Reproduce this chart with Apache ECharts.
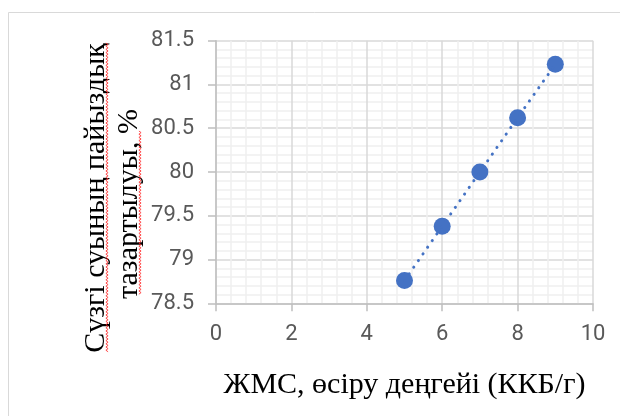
<!DOCTYPE html>
<html>
<head>
<meta charset="utf-8">
<script src="https://cdn.jsdelivr.net/npm/echarts@6/dist/echarts.min.js"></script>
<style>
  html, body { margin: 0; padding: 0; background: #ffffff; }
  #chart { width: 620px; height: 416px; }
</style>
</head>
<body>
<div id="chart"></div>
<script>
// Growth level of the culture (CFU/g) and filtrate purification, %
const growthLevel = [5, 6, 7, 8, 9];
const purification = [78.76, 79.38, 80.00, 80.62, 81.23];

const xTitle = 'ЖМС, өсіру деңгейі (ККБ/г)';
const yTitleLine1 = 'Сүзгі суының пайыздық';
const yTitleLine2 = 'тазартылуы, %';

const points = growthLevel.map((x, i) => [x, purification[i]]);

// red wavy spell-check style underline along a vertical text line
function wavy(xBase, y0, y1) {
  const pts = [];
  let k = 0;
  for (let y = y0; y <= y1; y += 1.6) {
    pts.push([xBase + (k % 2 ? 1.1 : -1.1), y]);
    k++;
  }
  return {
    type: 'polyline',
    silent: true,
    shape: { points: pts },
    style: { stroke: '#ff2020', lineWidth: 0.8, fill: null }
  };
}

const chart = echarts.init(document.getElementById('chart'), null, { renderer: 'canvas' });

const axisGray = '#bfbfbf';
const labelGray = '#595959';

chart.setOption({
  backgroundColor: '#ffffff',
  animation: false,
  grid: { left: 216, right: 27, top: 40.7, bottom: 112.7 },
  xAxis: {
    type: 'value',
    min: 0, max: 10, interval: 2,
    name: xTitle,
    nameLocation: 'middle',
    nameGap: 67,
    nameTextStyle: { fontFamily: 'Liberation Serif', fontSize: 30, color: '#000000' },
    axisLine: { show: true, onZero: false, lineStyle: { color: axisGray, width: 1.5 } },
    axisTick: { show: true, length: 8, lineStyle: { color: axisGray, width: 1.5 } },
    axisLabel: { margin: 20, fontFamily: 'Roboto', fontSize: 22, color: labelGray },
    splitLine: { show: true, lineStyle: { color: '#d9d9d9', width: 1.5 } },
    minorTick: { show: false, splitNumber: 5 },
    minorSplitLine: { show: true, lineStyle: { color: '#efefef', width: 1.5 } }
  },
  yAxis: {
    type: 'value',
    min: 78.5, max: 81.5, interval: 0.5,
    axisLine: { show: true, onZero: false, lineStyle: { color: axisGray, width: 1.5 } },
    axisTick: { show: true, length: 8, lineStyle: { color: axisGray, width: 1.5 } },
    axisLabel: { margin: 22, fontFamily: 'Roboto', fontSize: 22, color: labelGray },
    splitLine: { show: true, lineStyle: { color: '#d9d9d9', width: 1.5 } },
    minorTick: { show: false, splitNumber: 5 },
    minorSplitLine: { show: true, lineStyle: { color: '#efefef', width: 1.5 } }
  },
  series: [
    {
      type: 'scatter',
      data: points,
      symbol: 'circle',
      symbolSize: 17,
      itemStyle: { color: '#4472c4', opacity: 1 },
      z: 3
    },
    {
      // dotted linear trend through the measurements
      type: 'line',
      data: points,
      symbol: 'none',
      lineStyle: { color: '#4472c4', width: 3, type: [0.1, 8], cap: 'round' },
      z: 4
    }
  ],
  graphic: [
    {
      type: 'rect',
      silent: true,
      shape: { x: 8.5, y: 12.5, width: 700, height: 500 },
      style: { fill: null, stroke: '#d9d9d9', lineWidth: 1 }
    },
    {
      type: 'text',
      x: 96, y: 198,
      rotation: Math.PI / 2,
      style: {
        text: yTitleLine1,
        font: '30px "Liberation Serif"',
        fill: '#000000',
        textAlign: 'center',
        textVerticalAlign: 'middle'
      }
    },
    {
      type: 'text',
      x: 129, y: 204,
      rotation: Math.PI / 2,
      style: {
        text: yTitleLine2,
        font: '30px "Liberation Serif"',
        fill: '#000000',
        textAlign: 'center',
        textVerticalAlign: 'middle'
      }
    },
    wavy(107, 43, 353),
    wavy(140, 131, 295)
  ]
});
</script>
</body>
</html>
